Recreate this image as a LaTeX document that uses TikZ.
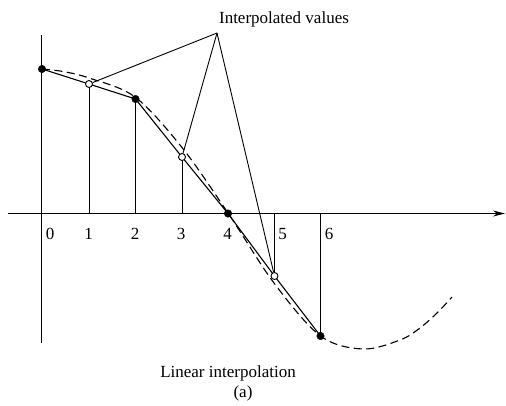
\documentclass[tikz,border=0pt]{standalone}
\usepackage{fontspec}
\setmainfont{Liberation Serif}
\usetikzlibrary{arrows.meta}
\begin{document}
\begin{tikzpicture}[x=1pt,y=-1pt,
  fulldot/.style={circle,fill=black,draw=black,inner sep=0pt,minimum size=7.5pt},
  opendot/.style={circle,fill=white,draw=black,line width=0.9pt,inner sep=0pt,minimum size=7pt},
  solidline/.style={line width=1.1pt},
  thinline/.style={line width=0.9pt},
  curvestyle/.style={line width=1.1pt,dash pattern=on 8pt off 4.5pt},
  lbl/.style={font=\fontsize{17}{20}\selectfont,inner sep=0pt,anchor=base}]
\useasboundingbox (0,0) rectangle (506,405);
% axes
\coordinate (xl) at (8,213.5);
\coordinate (xr) at (505,213.5);
\coordinate (ytop) at (41.5,35);
\coordinate (ybot) at (41.5,343);
\coordinate (apex) at (217,33);
\draw[line width=1.3pt,-{Stealth[length=12pt,width=6pt]}] (xl) -- (xr);
\draw[thinline] (ytop) -- (ybot);
% dashed function curve
\draw[curvestyle] plot[smooth,tension=0.55] coordinates {(42,69) (63,71.5) (89,78) (135,97) (182,147.5) (228,213) (274,283) (320.5,336) (363,349) (400,340) (420,328) (438,312) (452,297)};
% sample points
\coordinate (c0) at (42,69);
\coordinate (c1) at (89,84);
\coordinate (c2) at (135.5,99);
\coordinate (c3) at (182,157);
\coordinate (c4) at (228,213.5);
\coordinate (c5) at (274.5,276);
\coordinate (c6) at (320.5,336);
% verticals
\draw[thinline] (c1) -- (c1 |- xl);
\draw[thinline] (c2) -- (c2 |- xl);
\draw[thinline] (c3) -- (c3 |- xl);
\draw[thinline] (c5) -- (c5 |- xl);
\draw[thinline] (c6) -- (c6 |- xl);
% interpolation polyline
\draw[solidline] (c0) -- (c1) -- (c2) -- (c3) -- (c4) -- (c5) -- (c6);
% dots
\node[fulldot] (p0) at (c0) {};
\node[opendot] (p1) at (c1) {};
\node[fulldot] (p2) at (c2) {};
\node[opendot] (p3) at (c3) {};
\node[fulldot] (p4) at (c4) {};
\node[opendot] (p5) at (c5) {};
\node[fulldot] (p6) at (c6) {};
% pointers from the label
\draw[thinline] (apex) -- (p1);
\draw[thinline] (apex) -- (p3);
\draw[thinline] (apex) -- (p5);
% labels
\node[lbl] (tl) at (284,23) {Interpolated values};
\node[lbl] (l0) at (50,239) {0};
\node[lbl] (l1) at (88.5,239) {1};
\node[lbl] (l2) at (135,239) {2};
\node[lbl] (l3) at (181,239) {3};
\node[lbl] (l4) at (227.5,239) {4};
\node[lbl] (l5) at (282.5,239) {5};
\node[lbl] (l6) at (329,239) {6};
\node[lbl] (cap) at (228,377) {Linear interpolation};
\node[lbl] (sub) at (243,397) {(a)};
\end{tikzpicture}
\end{document}
